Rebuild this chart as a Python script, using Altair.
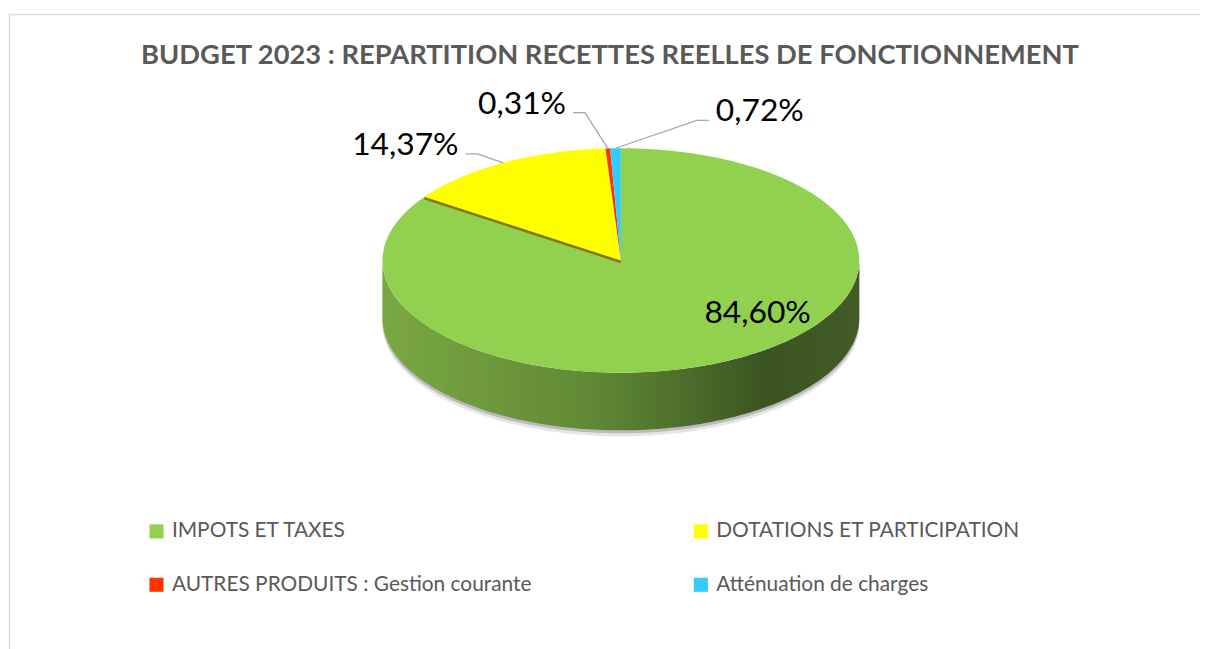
import altair as alt
import pandas as pd

# ---------------- data ----------------
categories = [
    "IMPOTS ET TAXES",
    "DOTATIONS ET PARTICIPATION",
    "AUTRES PRODUITS : Gestion courante",
    "Atténuation de charges",
]
values = [84.60, 14.37, 0.31, 0.72]
labels = ["84,60%", "14,37%", "0,31%", "0,72%"]
colors = ["#92d050", "#ffff00", "#ff3300", "#33ccff"]

df = pd.DataFrame({"category": categories, "value": values,
                   "label": labels, "order": list(range(len(categories)))})

# legend reading order (two columns, filled column by column)
legend_order = [categories[0], categories[2], categories[1], categories[3]]
legend_colors = [colors[0], colors[2], colors[1], colors[3]]

# ---------------- layout ----------------
W, H = 1200, 641
CX, CY, A, B, DEPTH = 625, 260, 240, 113, 58
N = 120
LAB_DX = [26, -38, -35, 94]      # label anchor offset from rim point
LAB_DY = [-38, -9, -36, -28]
LAB_SIDE = [0, -1, -1, 1]        # 0 inside, -1 left, 1 right
FONT = "Lato"

xs = alt.Scale(domain=[8, 8 + W], nice=False, zero=False)
ys = alt.Scale(domain=[8, 8 + H], nice=False, zero=False, reverse=True)
cs = alt.Scale(domain=legend_order, range=legend_colors)
X = alt.X("px:Q", scale=xs, axis=None)
Y = alt.Y("py:Q", scale=ys, axis=None)

base = (alt.Chart(df)
        .transform_joinaggregate(total="sum(value)")
        .transform_window(cum="sum(value)", sort=[alt.SortField("order")], frame=[None, 0])
        .transform_calculate(t0="2*PI*(datum.cum - datum.value)/datum.total",
                             t1="2*PI*datum.cum/datum.total"))

# top faces
top = (base
       .transform_calculate(pts=f"sequence(0, {N + 2})")
       .transform_flatten(["pts"], as_=["idx"])
       .transform_calculate(
           th=f"datum.t0 + (datum.t1 - datum.t0)*(datum.idx - 1)/{N}",
           px=f"datum.idx == 0 ? {CX} : {CX} + {A}*sin(datum.th)",
           py=f"datum.idx == 0 ? {CY} : {CY} - {B}*cos(datum.th)")
       .mark_line(filled=True, interpolate="linear-closed", strokeWidth=0)
       .encode(x=X, y=Y, color=alt.Color("category:N", scale=cs, legend=None),
               order="idx:Q", detail="category:N"))


def side_wall(offset, fill, opacity):
    return (base
            .transform_calculate(s="max(datum.t0, PI/2)", e="min(datum.t1, 3*PI/2)")
            .transform_filter("datum.s < datum.e")
            .transform_calculate(pts=f"sequence(0, {2 * N + 2})")
            .transform_flatten(["pts"], as_=["idx"])
            .transform_calculate(
                th=(f"datum.idx <= {N} ? datum.s + (datum.e - datum.s)*datum.idx/{N}"
                    f" : datum.e - (datum.e - datum.s)*(datum.idx - {N + 1})/{N}"),
                px=f"{CX} + {A}*sin(datum.th)",
                py=f"{CY} - {B}*cos(datum.th) + {offset} + (datum.idx <= {N} ? 0 : {DEPTH})")
            .mark_line(filled=True, interpolate="linear-closed", strokeWidth=0,
                       fill=fill, opacity=opacity)
            .encode(x=X, y=Y, order="idx:Q", detail="category:N"))


side_grad = alt.Gradient(
    gradient="linear", x1=0, x2=1, y1=0, y2=0,
    stops=[alt.GradientStop(color="#7aa842", offset=0),
           alt.GradientStop(color="#5f8835", offset=0.45),
           alt.GradientStop(color="#3b5522", offset=0.8),
           alt.GradientStop(color="#425c27", offset=1)])

shadow1 = side_wall(6, "#000000", 0.10)
shadow2 = side_wall(3, "#000000", 0.18)
side = side_wall(0, side_grad, 1)

# yellow slice edge (visible thickness)
edge = (base
        .transform_filter("datum.order == 1")
        .transform_calculate(pts="sequence(0, 2)")
        .transform_flatten(["pts"], as_=["idx"])
        .transform_calculate(
            px=f"datum.idx == 0 ? {CX} : {CX} + {A}*sin(datum.t0)",
            py=f"(datum.idx == 0 ? {CY} : {CY} - {B}*cos(datum.t0)) + 1.5")
        .mark_line(color="#857a10", strokeWidth=2.5)
        .encode(x=X, y=Y, order="idx:Q"))

# legend carrier (hidden under pie)
legend_layer = (base
                .transform_calculate(px=str(CX), py=str(CY))
                .mark_square(size=1, opacity=1, filled=True)
                .encode(x=X, y=Y,
                        color=alt.Color("category:N", scale=cs,
                                        legend=alt.Legend(
                                            title=None, orient="none",
                                            legendX=139, legendY=514,
                                            columns=2, symbolType="square",
                                            symbolSize=200, symbolStrokeWidth=0,
                                            symbolOpacity=1,
                                            labelFont=FONT, labelFontSize=21,
                                            labelColor="#595959", labelOffset=5,
                                            labelLimit=0, columnPadding=159,
                                            rowPadding=32))))

lab_base = base.transform_calculate(
    mid="(datum.t0 + datum.t1)/2",
    rx=f"{CX} + {A}*sin(datum.mid)",
    ry=f"{CY} - {B}*cos(datum.mid)",
    ex=f"datum.rx + {LAB_DX}[datum.order]",
    ey=f"datum.ry + {LAB_DY}[datum.order]",
    side=f"{LAB_SIDE}[datum.order]",
    px="datum.ex + 7*datum.side",
    py="datum.ey + 1")

leaders = (lab_base
           .transform_filter("datum.side != 0")
           .transform_calculate(pts="sequence(0, 3)")
           .transform_flatten(["pts"], as_=["idx"])
           .transform_calculate(
               px="datum.idx == 0 ? datum.rx : (datum.idx == 1 ? datum.ex - 12*datum.side : datum.ex)",
               py="datum.idx == 0 ? datum.ry : datum.ey")
           .mark_line(color="#a6a6a6", strokeWidth=1.3)
           .encode(x=X, y=Y, order="idx:Q", detail="category:N"))


def label_layer(side_val, align):
    return (lab_base.transform_filter(f"datum.side == {side_val}")
            .mark_text(font=FONT, fontSize=32, color="#000000", align=align,
                       baseline="alphabetic")
            .encode(x=X, y=Y, text="label:N"))


one = alt.Chart(pd.DataFrame({"k": [0]}))
border = one.mark_rect(fillOpacity=0, stroke="#d9d9d9", strokeWidth=1.5).encode(
    x=alt.value(1.5), x2=alt.value(W + 50), y=alt.value(4.5), y2=alt.value(H + 50))
title = one.mark_text(text="BUDGET 2023 : REPARTITION RECETTES REELLES DE FONCTIONNEMENT",
                      font=FONT, fontWeight="bold", fontSize=27.5, color="#595959",
                      align="center", baseline="alphabetic").encode(
    x=alt.value(606), y=alt.value(54))

chart = alt.layer(
    border, shadow1, shadow2, side, legend_layer, top, edge, leaders,
    label_layer(0, "center"), label_layer(-1, "right"), label_layer(1, "left"), title
).properties(width=W, height=H, padding=0, autosize=alt.AutoSizeParams(type="none")
).configure_view(stroke=None)

chart.save("out.html", embed_options={"renderer": "svg", "actions": False})
